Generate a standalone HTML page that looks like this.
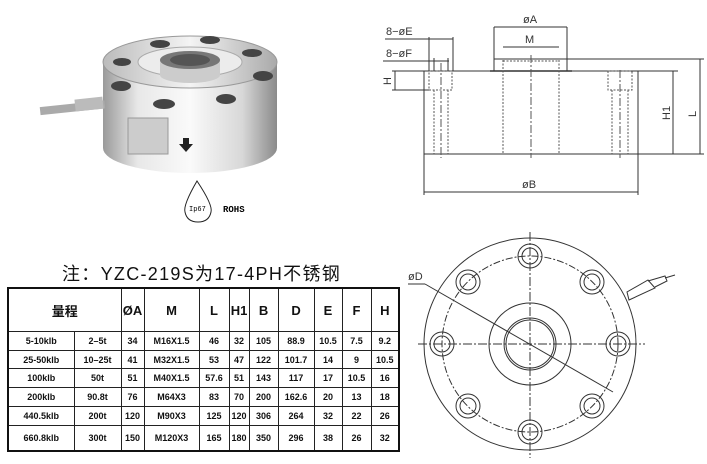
<!DOCTYPE html>
<html><head><meta charset="utf-8"><style>
body{margin:0;background:#fff;width:707px;height:464px;overflow:hidden;position:relative;font-family:"Liberation Sans","Noto Sans CJK SC",sans-serif}
svg{position:absolute;left:0;top:0}
table{position:absolute;left:7px;top:287px;border-collapse:collapse;width:391px;height:165px;table-layout:fixed}
td{border:1px solid #222;text-align:center;font-size:9px;font-weight:bold;padding:0;color:#111}
tr.h td{font-size:13px;height:42px}
table{border:2px solid #111}
.t{position:absolute;left:62px;top:260px;font-size:18px;color:#111;letter-spacing:1.3px;white-space:nowrap}
</style></head><body>
<svg width="707" height="464" viewBox="0 0 707 464">
<defs>
<linearGradient id="g1" x1="0" x2="1"><stop offset="0" stop-color="#9a9a9a"/><stop offset="0.2" stop-color="#e8e8e8"/><stop offset="0.5" stop-color="#fafafa"/><stop offset="0.8" stop-color="#d8d8d8"/><stop offset="1" stop-color="#8a8a8a"/></linearGradient>
<linearGradient id="g2" x1="0" x2="1"><stop offset="0" stop-color="#bbb"/><stop offset="0.5" stop-color="#f4f4f4"/><stop offset="1" stop-color="#aaa"/></linearGradient>
</defs>
<path d="M103 62 L103 148 A87 25 0 0 0 277 148 L277 62 Z" fill="url(#g1)"/>
<ellipse cx="190" cy="62" rx="87" ry="26" fill="url(#g2)" stroke="#999"/>
<ellipse cx="190" cy="62" rx="52" ry="15" fill="#ececec" stroke="#aaa"/>
<path d="M160 60 L160 75 A30 8 0 0 0 220 75 L220 60 Z" fill="#ccc"/>
<ellipse cx="190" cy="60" rx="30" ry="9" fill="#777"/>
<ellipse cx="190" cy="60" rx="20" ry="6" fill="#555"/>
<g fill="#444"><ellipse cx="160" cy="44" rx="10" ry="4"/><ellipse cx="210" cy="40" rx="10" ry="4"/><ellipse cx="252" cy="53" rx="10" ry="4"/><ellipse cx="263" cy="76" rx="10" ry="5"/><ellipse cx="226" cy="99" rx="10" ry="5"/><ellipse cx="164" cy="104" rx="11" ry="5"/><ellipse cx="121" cy="86" rx="10" ry="5"/><ellipse cx="122" cy="62" rx="9" ry="4"/></g>
<rect x="128" y="118" width="40" height="36" fill="#ccc" stroke="#999"/>
<path d="M183 138 h6 v6 h4 l-7 8 l-7 -8 h4z" fill="#222"/>
<rect x="40" y="104" width="65" height="8" fill="#aaa" transform="rotate(-6 70 108)"/>
<rect x="75" y="98" width="28" height="12" fill="#bbb" transform="rotate(-6 90 104)"/>
<path d="M197 181 Q183 205 185 212 Q187 222 198 222 Q209 222 211 212 Q213 205 197 181Z" fill="none" stroke="#222"/>
<text x="189" y="211" font-size="7" font-family="Liberation Mono,monospace">Ip67</text>
<text x="223" y="212" font-size="9" font-family="Liberation Mono,monospace" font-weight="bold">ROHS</text>
<g stroke="#333" fill="none" stroke-width="1">
<rect x="424" y="71" width="214" height="83"/>
<rect x="494" y="59" width="73" height="12"/>
<line x1="490" y1="71" x2="572" y2="71" stroke-width="1.5"/>
<g stroke-dasharray="2,1.5" stroke="#555">
<line x1="503" y1="60" x2="503" y2="154"/><line x1="559" y1="60" x2="559" y2="154"/>
<line x1="503" y1="61" x2="559" y2="61"/>
<rect x="429" y="71" width="23" height="19"/>
<line x1="434" y1="90" x2="434" y2="154"/><line x1="448" y1="90" x2="448" y2="154"/>
<rect x="608" y="71" width="24" height="19"/>
<line x1="612" y1="90" x2="612" y2="154"/><line x1="628" y1="90" x2="628" y2="154"/>
</g>
<g stroke-dasharray="8,2,2,2" stroke="#555"><line x1="531" y1="55" x2="531" y2="158"/><line x1="441" y1="63" x2="441" y2="158"/><line x1="620" y1="70" x2="620" y2="158"/></g>
<line x1="494" y1="27" x2="494" y2="59"/><line x1="567" y1="27" x2="567" y2="59"/><line x1="494" y1="27" x2="567" y2="27"/>
<line x1="503" y1="47" x2="559" y2="47"/>
<line x1="385" y1="39" x2="453" y2="39"/><line x1="429" y1="37" x2="429" y2="71"/><line x1="453" y1="37" x2="453" y2="71"/>
<line x1="383" y1="61" x2="449" y2="61"/><line x1="434" y1="58" x2="434" y2="71"/><line x1="448" y1="58" x2="448" y2="71"/>
<line x1="392" y1="71" x2="424" y2="71"/><line x1="392" y1="90" x2="429" y2="90"/><line x1="395" y1="71" x2="395" y2="90"/>
<line x1="638" y1="71" x2="678" y2="71"/><line x1="673" y1="71" x2="673" y2="154"/><line x1="638" y1="154" x2="704" y2="154"/>
<line x1="567" y1="59" x2="704" y2="59"/><line x1="700" y1="59" x2="700" y2="154"/>
<line x1="424" y1="154" x2="424" y2="195"/><line x1="638" y1="154" x2="638" y2="195"/><line x1="424" y1="192" x2="638" y2="192"/>
</g>
<g fill="#333" font-size="11" font-family="Liberation Sans,sans-serif">
<text x="523" y="23">øA</text><text x="525" y="43">M</text>
<text x="386" y="35">8−øE</text><text x="386" y="57">8−øF</text>
<text x="522" y="188">øB</text>
<text transform="translate(391 85) rotate(-90)">H</text>
<text transform="translate(670 120) rotate(-90)">H1</text>
<text transform="translate(696 117) rotate(-90)">L</text>
<text x="408" y="280">øD</text>
</g>
<g stroke="#333" fill="none">
<circle cx="530" cy="344" r="106"/>
<circle cx="530" cy="344" r="88" stroke-dasharray="7,2,2,2"/>
<circle cx="530" cy="344" r="41"/>
<circle cx="530" cy="344" r="26"/><circle cx="530" cy="344" r="24"/>
<g stroke-dasharray="9,2,2,2"><line x1="418" y1="344" x2="645" y2="344"/><line x1="530" y1="232" x2="530" y2="458"/></g>
<g>
<circle cx="530" cy="256" r="12"/><circle cx="530" cy="256" r="8"/>
<circle cx="530" cy="432" r="12"/><circle cx="530" cy="432" r="8"/>
<circle cx="442" cy="344" r="12"/><circle cx="442" cy="344" r="8"/>
<circle cx="618" cy="344" r="12"/><circle cx="618" cy="344" r="8"/>
<circle cx="468" cy="282" r="12"/><circle cx="468" cy="282" r="8"/>
<circle cx="592" cy="282" r="12"/><circle cx="592" cy="282" r="8"/>
<circle cx="468" cy="406" r="12"/><circle cx="468" cy="406" r="8"/>
<circle cx="592" cy="406" r="12"/><circle cx="592" cy="406" r="8"/>
</g>
<line x1="408" y1="284" x2="425" y2="284"/><line x1="425" y1="284" x2="613" y2="392"/>
<path d="M629 300 L627 292 L648 280 L655 288 Z"/><path d="M648 281 L665 276 L667 281 L655 287"/><line x1="665" y1="278" x2="675" y2="275"/>
</g>
</svg>
<div class="t">注：YZC-219S为17-4PH不锈钢</div>
<table>
<colgroup><col style="width:66px"><col style="width:47px"><col style="width:23px"><col style="width:55px"><col style="width:30px"><col style="width:20px"><col style="width:29px"><col style="width:36px"><col style="width:28px"><col style="width:29px"><col style="width:28px"></colgroup>
<tr class="h"><td colspan="2">量程</td><td>ØA</td><td>M</td><td>L</td><td>H1</td><td>B</td><td>D</td><td>E</td><td>F</td><td>H</td></tr>
<tr><td>5-10klb</td><td>2–5t</td><td>34</td><td>M16X1.5</td><td>46</td><td>32</td><td>105</td><td>88.9</td><td>10.5</td><td>7.5</td><td>9.2</td></tr>
<tr><td>25-50klb</td><td>10–25t</td><td>41</td><td>M32X1.5</td><td>53</td><td>47</td><td>122</td><td>101.7</td><td>14</td><td>9</td><td>10.5</td></tr>
<tr><td>100klb</td><td>50t</td><td>51</td><td>M40X1.5</td><td>57.6</td><td>51</td><td>143</td><td>117</td><td>17</td><td>10.5</td><td>16</td></tr>
<tr><td>200klb</td><td>90.8t</td><td>76</td><td>M64X3</td><td>83</td><td>70</td><td>200</td><td>162.6</td><td>20</td><td>13</td><td>18</td></tr>
<tr><td>440.5klb</td><td>200t</td><td>120</td><td>M90X3</td><td>125</td><td>120</td><td>306</td><td>264</td><td>32</td><td>22</td><td>26</td></tr>
<tr style="height:26px"><td>660.8klb</td><td>300t</td><td>150</td><td>M120X3</td><td>165</td><td>180</td><td>350</td><td>296</td><td>38</td><td>26</td><td>32</td></tr>
</table>
</body></html>
